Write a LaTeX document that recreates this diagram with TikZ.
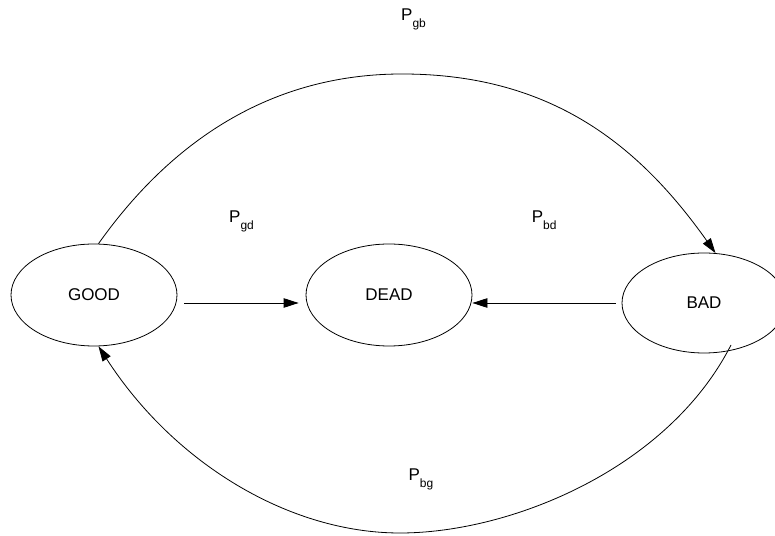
\documentclass[tikz,border=0pt]{standalone}
\usepackage{fontspec}
\setmainfont{Liberation Sans}
\usetikzlibrary{shapes.geometric,arrows.meta}
\newcommand{\Plab}[1]{P\raisebox{-7pt}{\fontsize{12}{12}\selectfont #1}}
\begin{document}
\begin{tikzpicture}[x=1pt,y=1pt,
  state/.style={ellipse,draw,line width=0.8pt,inner sep=0pt,minimum width=166pt,minimum height=102pt,font=\fontsize{17}{20}\selectfont},
  arr/.style={line width=0.8pt,-{Triangle[length=15pt,width=9.5pt]}},
  plabel/.style={inner sep=0pt,anchor=base west,font=\fontsize{17}{20}\selectfont}]
\useasboundingbox (0,0) rectangle (775,535);
\node[state] (G) at (94,240) {GOOD};
\node[state] (D) at (389,240) {DEAD};
\node[state,minimum width=164pt,minimum height=100pt] (B) at (704,232) {BAD};
\coordinate (topmid) at (402,461);
\coordinate (botmid) at (400,2);
\coordinate (bstart) at ([shift={(27pt,-42pt)}]B.center);
% straight arrows
\draw[arr,shorten <=7pt,shorten >=7pt] (G.east |- B.center) -- (D.west |- B.center);
\draw[arr,shorten <=6pt] (B.west) -- (D.east |- B.center);
% top arc GOOD -> BAD
\draw[arr] (G.85) .. controls (164.7,384.7) and (262,461) .. (topmid)
  .. controls (552,461) and (639.6,389) .. (B.77);
% bottom arc BAD -> GOOD
\draw[arr] (bstart) .. controls (667.4,65.5) and (510,2) .. (botmid)
  .. controls (290,2) and (174.6,70.8) .. (G.275);
% labels
\node[plabel] (Lgb) at (401,514.3) {\Plab{gb}};
\node[plabel] (Lgd) at (229,312.7) {\Plab{gd}};
\node[plabel] (Lbd) at (531.7,312.7) {\Plab{bd}};
\node[plabel] (Lbg) at (408.3,54.3) {\Plab{bg}};
\end{tikzpicture}
\end{document}
